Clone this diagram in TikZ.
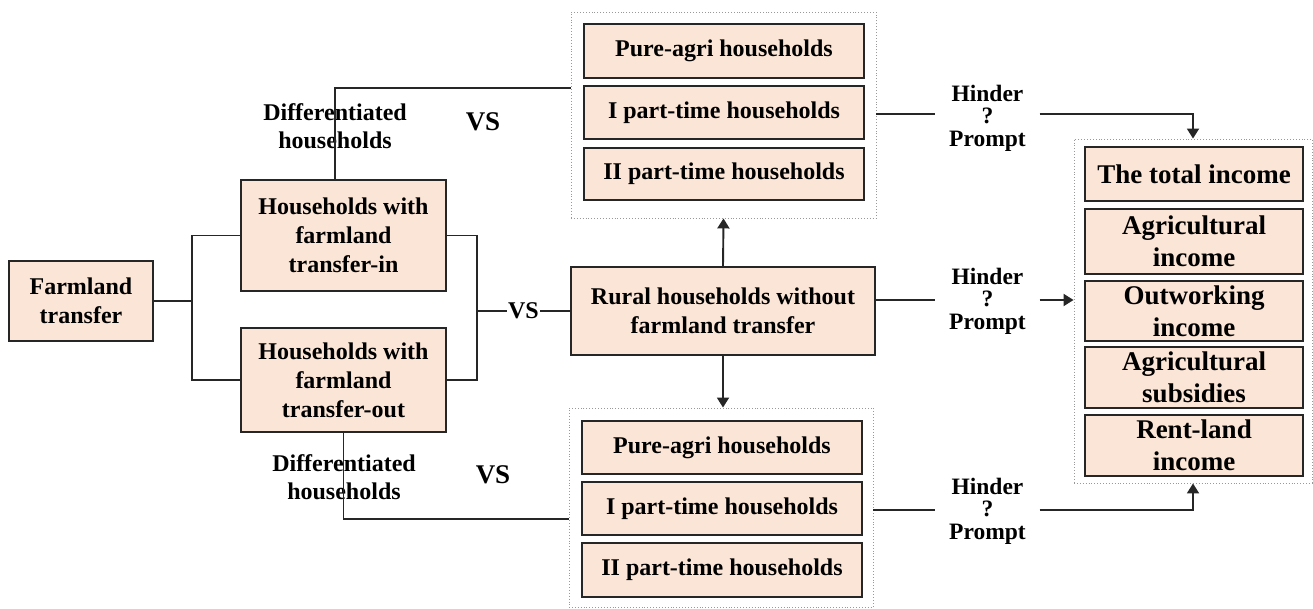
\documentclass[tikz,border=0pt]{standalone}
\usepackage{fontspec}
\setmainfont{Liberation Serif}
\usetikzlibrary{arrows.meta}
\definecolor{peach}{HTML}{FBE5D6}
\definecolor{edge}{HTML}{262626}
\tikzset{
  box/.style={draw=edge, fill=peach, line width=2pt, align=center, inner sep=0pt,
              font=\fontsize{24}{29}\selectfont\bfseries},
  rbox/.style={box, font=\fontsize{27}{32}\selectfont\bfseries},
  grp/.style={draw=gray!80, dotted, line width=0.9pt, inner sep=0pt},
  lbl/.style={align=center, inner sep=0pt, font=\fontsize{24}{28}\selectfont\bfseries},
  hlbl/.style={align=center, inner sep=0pt, minimum width=104pt, font=\fontsize{23.5}{22.5}\selectfont\bfseries},
  vs/.style={inner sep=1pt, font=\fontsize{27}{30}\selectfont\bfseries},
  conn/.style={draw=edge, line width=1.9pt},
  arr/.style={conn, -{Triangle[length=10pt,width=12pt]}},
}
\begin{document}
\begin{tikzpicture}[x=1pt,y=-1pt]
\useasboundingbox (0,0) rectangle (1313,609);
% left part
\node[box, minimum width=144, minimum height=80] (farm) at (81,301) {Farmland\\transfer};
\node[box, minimum width=205, minimum height=111] (tin) at (343.5,235.5) {Households with\\farmland\\transfer-in};
\node[box, minimum width=205, minimum height=104] (tout) at (343.5,380) {Households with\\farmland\\transfer-out};
\node[box, minimum width=304, minimum height=88] (rural) at (723,311) {Rural households without\\farmland transfer};
% top group
\node[grp, minimum width=305, minimum height=206] (tg) at (723.5,115) {};
\node[box, minimum width=280, minimum height=54] (t1) at (724,51) {Pure-agri households};
\node[box, minimum width=280, minimum height=53] (t2) at (724,112.5) {I part-time households};
\node[box, minimum width=280, minimum height=52] (t3) at (724,174) {II part-time households};
% bottom group
\node[grp, minimum width=304, minimum height=199] (bg) at (721,507.5) {};
\node[box, minimum width=280, minimum height=53] (b1) at (722,447.5) {Pure-agri households};
\node[box, minimum width=280, minimum height=53] (b2) at (722,508.5) {I part-time households};
\node[box, minimum width=280, minimum height=54] (b3) at (722,570) {II part-time households};
% right group
\node[grp, minimum width=238, minimum height=344] (rg) at (1193,311) {};
\node[rbox, minimum width=218, minimum height=54] (r1) at (1194,174) {The total income};
\node[rbox, minimum width=218, minimum height=65] (r2) at (1194,241.5) {Agricultural\\income};
\node[rbox, minimum width=218, minimum height=60] (r3) at (1194,311) {Outworking\\income};
\node[rbox, minimum width=218, minimum height=61] (r4) at (1194,377.5) {Agricultural\\subsidies};
\node[rbox, minimum width=218, minimum height=61] (r5) at (1194,445.5) {Rent-land\\income};
% labels
\node[lbl] (d1) at (335,126) {Differentiated\\households};
\node[lbl] (d2) at (344,477) {Differentiated\\households};
\node[vs] (vs1) at (483,122) {VS};
\node[vs] (vs3) at (493,475) {VS};
\node[hlbl] (h1) at (987.5,118) {Hinder\\?\\Prompt};
\node[hlbl] (h2) at (987.5,301) {Hinder\\?\\Prompt};
\node[hlbl] (h3) at (987.5,511) {Hinder\\?\\Prompt};
% helper coordinates
\coordinate (lb) at (192,301);
\coordinate (rb) at (477,311);
\coordinate (cx1) at (335,0);
\coordinate (tgl) at (571,88);
\coordinate (bgl) at (569,519);
% connectors
\draw[conn] (farm.east) -- (lb);
\draw[conn] (tin.west) -| (lb) |- (tout.west);
\draw[conn] (tin.east) -| (rb) |- (tout.east);
\draw[conn] (rb) -- node[vs, fill=white, font=\fontsize{24}{26}\selectfont\bfseries] (vs2) {VS} (rural.west);
\draw[conn] (tin.north -| cx1) |- (tgl);
\draw[conn] (tout.south) |- (bgl);
\draw[arr] (rural.north) -- (tg.south);
\draw[arr] (rural.south) -- (rural.south |- bg.north);
\draw[conn] (tg.east |- 0,114) -- (h1.west |- 0,114);
\draw[arr] (h1.east |- 0,114) -| (rg.north);
\draw[conn] (rural.east |- 0,300) -- (h2.west |- 0,300);
\draw[arr] (h2.east |- 0,300) -- (rg.west |- 0,300);
\draw[conn] (bg.east |- 0,510) -- (h3.west |- 0,510);
\draw[arr] (h3.east |- 0,510) -| (rg.south);
\end{tikzpicture}
\end{document}
